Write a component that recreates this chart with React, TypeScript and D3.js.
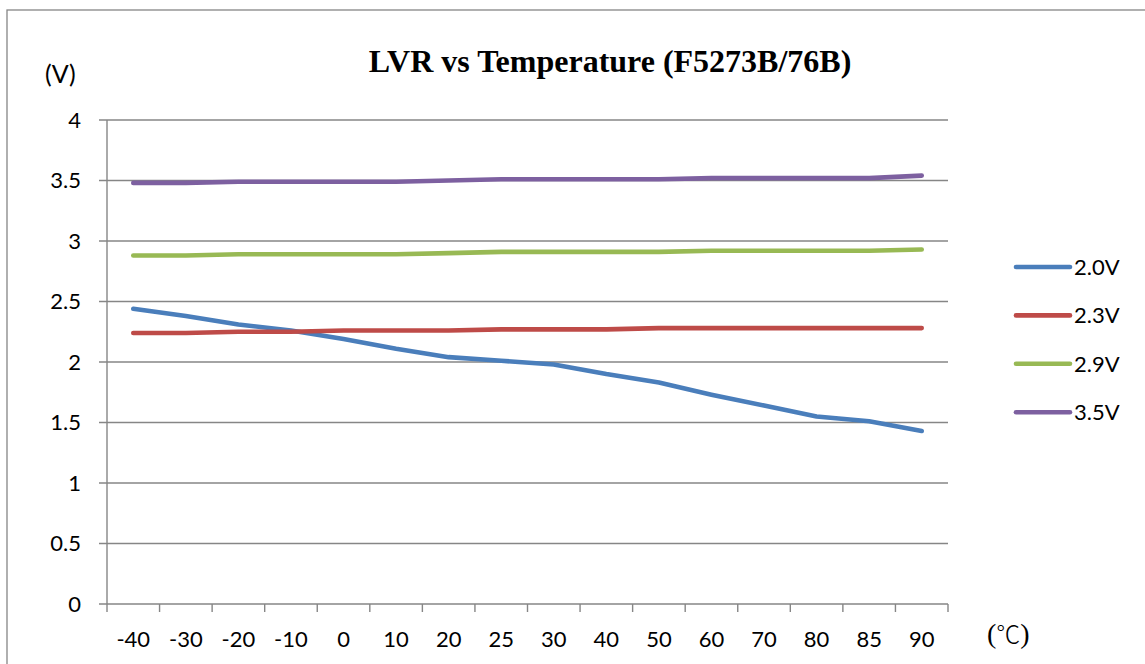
import React from "react";
import * as d3 from "d3";

const categories = ["-40", "-30", "-20", "-10", "0", "10", "20", "25", "30", "40", "50", "60", "70", "80", "85", "90"];
const seriesNames = ["2.0V", "2.3V", "2.9V", "3.5V"];
const seriesColors = ["#4A7EBB", "#BE4B48", "#98B954", "#7D60A0"];
const s20 = [2.44, 2.38, 2.31, 2.26, 2.19, 2.11, 2.04, 2.01, 1.98, 1.90, 1.83, 1.73, 1.64, 1.55, 1.51, 1.43];
const s23 = [2.24, 2.24, 2.25, 2.25, 2.26, 2.26, 2.26, 2.27, 2.27, 2.27, 2.28, 2.28, 2.28, 2.28, 2.28, 2.28];
const s29 = [2.88, 2.88, 2.89, 2.89, 2.89, 2.89, 2.90, 2.91, 2.91, 2.91, 2.91, 2.92, 2.92, 2.92, 2.92, 2.93];
const s35 = [3.48, 3.48, 3.49, 3.49, 3.49, 3.49, 3.50, 3.51, 3.51, 3.51, 3.51, 3.52, 3.52, 3.52, 3.52, 3.54];
const yTicks = [0, 0.5, 1, 1.5, 2, 2.5, 3, 3.5, 4];

const W = 1145;
const H = 664;
const left = 107;
const right = 948;
const top = 120;
const bottom = 604;
const gridColor = "#868686";
const labelFont = "Lato, 'Open Sans', sans-serif";

export default function App() {
  const series = [s20, s23, s29, s35];
  const x = d3.scaleBand<string>().domain(categories).range([left, right]).padding(0);
  const bw = x.bandwidth();
  const xc = (c: string) => (x(c) as number) + bw / 2;
  const y = d3.scaleLinear().domain([0, 4]).range([bottom, top]);
  const line = d3
    .line<number>()
    .x((_, i) => xc(categories[i]))
    .y((d) => y(d));
  const boundaries = d3.range(categories.length + 1).map((k) => left + k * bw);

  return (
    <svg width={W} height={H} style={{ position: "absolute", left: 0, top: 0, display: "block", background: "#fff" }}>
      <rect x={7} y={10} width={1300} height={800} fill="#fff" stroke={gridColor} strokeWidth={1.3} />
      <text x={610} y={72} textAnchor="middle" fontFamily="'Liberation Serif', 'Times New Roman', serif" fontWeight="bold" fontSize={32} fill="#000">
        LVR vs Temperature (F5273B/76B)
      </text>
      <text x={45} y={83} fontFamily={labelFont} fontSize={25} fill="#000">(V)</text>
      {yTicks.map((t) => (
        <g key={t}>
          <line x1={99} x2={right} y1={y(t)} y2={y(t)} stroke={gridColor} strokeWidth={1.4} />
          <text x={81} y={y(t) + 7.8} textAnchor="end" fontFamily={labelFont} fontSize={22} fill="#000">
            {t}
          </text>
        </g>
      ))}
      <line x1={left} x2={left} y1={top} y2={bottom} stroke={gridColor} strokeWidth={1.4} />
      {boundaries.map((b, i) => (
        <line key={i} x1={b} x2={b} y1={bottom} y2={bottom + 8} stroke={gridColor} strokeWidth={1.4} />
      ))}
      {categories.map((c) => (
        <text key={c} x={xc(c)} y={647} textAnchor="middle" fontFamily={labelFont} fontSize={22} fill="#000">
          {c}
        </text>
      ))}
      <text x={987} y={643} fontSize={28} fill="#000">
        <tspan fontFamily="'Liberation Serif', serif">(</tspan>
        <tspan fontFamily="'Noto Sans CJK SC', sans-serif" fontWeight={300} fontSize={24}>℃</tspan>
        <tspan fontFamily="'Liberation Serif', serif">)</tspan>
      </text>
      {series.map((s, i) => (
        <path key={i} d={line(s) || ""} fill="none" stroke={seriesColors[i]} strokeWidth={4.6} strokeLinecap="round" strokeLinejoin="round" />
      ))}
      {seriesNames.map((n, i) => {
        const ly = 267 + i * 48.4;
        return (
          <g key={n}>
            <line x1={1016} x2={1070} y1={ly} y2={ly} stroke={seriesColors[i]} strokeWidth={4.6} strokeLinecap="round" />
            <text x={1074} y={ly + 8} fontFamily={labelFont} fontSize={22} fill="#000">
              {n}
            </text>
          </g>
        );
      })}
    </svg>
  );
}
